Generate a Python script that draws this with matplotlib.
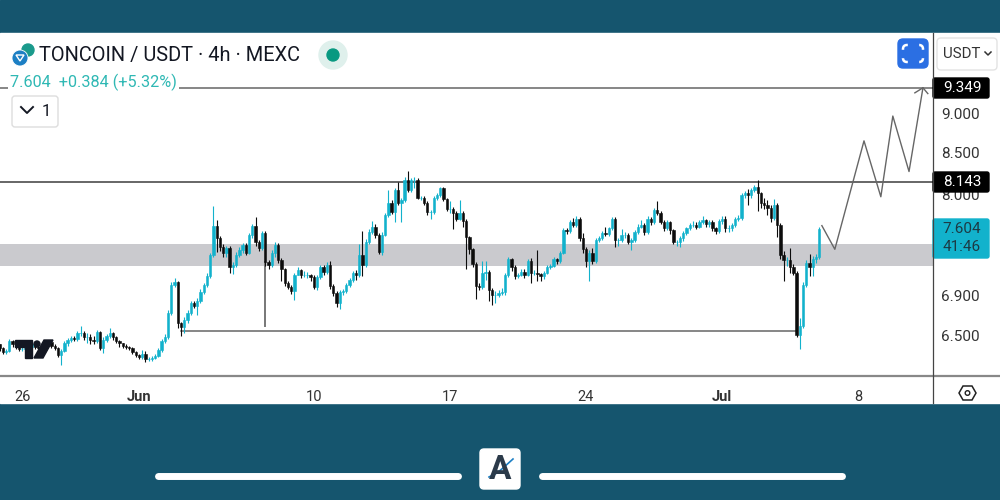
"""TONCOIN / USDT 4h candles with support levels and a forecast path."""
import matplotlib

matplotlib.use("Agg")
import matplotlib.pyplot as plt
import numpy as np
from matplotlib.patches import Circle, FancyBboxPatch, Polygon, Rectangle

plt.rcParams["font.family"] = ["Roboto", "DejaVu Sans"]

closes = [
    6.39, 6.35, 6.36, 6.45, 6.42, 6.40, 6.38, 6.38, 6.39, 6.40,
    6.42, 6.40, 6.39, 6.41, 6.43, 6.44, 6.41, 6.39, 6.32, 6.36,
    6.43, 6.46, 6.48, 6.47, 6.53, 6.53, 6.49, 6.49, 6.46, 6.45,
    6.54, 6.39, 6.46, 6.50, 6.53, 6.49, 6.45, 6.43, 6.41, 6.40,
    6.39, 6.35, 6.32, 6.30, 6.33, 6.28, 6.28, 6.29, 6.31, 6.37,
    6.45, 6.49, 6.72, 7.00, 7.03, 6.62, 6.59, 6.65, 6.72, 6.82,
    6.79, 6.84, 6.93, 7.00, 7.10, 7.32, 7.64, 7.50, 7.40, 7.34,
    7.39, 7.19, 7.21, 7.32, 7.37, 7.43, 7.34, 7.54, 7.64, 7.46,
    7.39, 7.56, 7.24, 7.21, 7.34, 7.43, 7.27, 7.17, 7.02, 6.98,
    6.94, 7.11, 7.16, 7.11, 7.11, 7.11, 7.09, 6.98, 7.09, 7.19,
    7.14, 7.21, 6.99, 6.92, 6.82, 6.93, 6.94, 7.00, 7.06, 7.13,
    7.11, 7.32, 7.21, 7.46, 7.57, 7.63, 7.54, 7.35, 7.54, 7.76,
    7.90, 7.79, 8.05, 7.90, 7.93, 8.17, 8.05, 8.17, 8.17, 7.96,
    7.96, 7.90, 7.79, 7.79, 7.96, 7.99, 8.07, 7.94, 7.83, 7.83,
    7.78, 7.71, 7.78, 7.69, 7.51, 7.38, 7.22, 6.99, 6.98, 7.13,
    7.14, 6.95, 6.90, 6.90, 6.92, 6.93, 7.11, 7.28, 7.19, 7.10,
    7.11, 7.14, 7.11, 7.25, 7.13, 7.13, 7.12, 7.10, 7.13, 7.19,
    7.20, 7.28, 7.25, 7.34, 7.59, 7.58, 7.68, 7.65, 7.72, 7.50,
    7.38, 7.25, 7.34, 7.25, 7.48, 7.50, 7.56, 7.55, 7.61, 7.71,
    7.48, 7.48, 7.54, 7.54, 7.46, 7.48, 7.57, 7.63, 7.65, 7.57,
    7.72, 7.68, 7.82, 7.78, 7.68, 7.61, 7.68, 7.59, 7.46, 7.46,
    7.50, 7.56, 7.61, 7.65, 7.65, 7.63, 7.68, 7.70, 7.66, 7.68,
    7.61, 7.58, 7.69, 7.72, 7.61, 7.61, 7.65, 7.72, 7.73, 7.99,
    8.01, 7.99, 8.05, 8.09, 8.01, 7.90, 7.88, 7.84, 7.73, 7.88,
    7.65, 7.32, 7.27, 7.27, 7.19, 7.13, 6.51, 6.60, 7.00, 7.23,
    7.19, 7.28, 7.30, 7.604,
]
highs = [
    6.42, 6.40, 6.38, 6.47, 6.46, 6.43, 6.41, 6.40, 6.41, 6.42,
    6.44, 6.43, 6.41, 6.43, 6.45, 6.46, 6.45, 6.42, 6.40, 6.38,
    6.45, 6.48, 6.50, 6.50, 6.55, 6.60, 6.55, 6.53, 6.52, 6.50,
    6.56, 6.55, 6.49, 6.52, 6.58, 6.54, 6.50, 6.46, 6.43, 6.42,
    6.41, 6.40, 6.36, 6.33, 6.37, 6.36, 6.30, 6.31, 6.33, 6.39,
    6.47, 6.52, 6.75, 7.03, 7.08, 7.05, 6.63, 6.68, 6.75, 6.84,
    6.84, 6.87, 6.96, 7.02, 7.13, 7.34, 7.86, 7.70, 7.53, 7.44,
    7.42, 7.42, 7.24, 7.35, 7.40, 7.45, 7.45, 7.56, 7.66, 7.74,
    7.48, 7.58, 7.58, 7.27, 7.37, 7.46, 7.45, 7.29, 7.18, 7.05,
    7.00, 7.13, 7.19, 7.17, 7.15, 7.14, 7.12, 7.11, 7.11, 7.21,
    7.21, 7.24, 7.25, 7.01, 6.94, 6.95, 6.96, 7.02, 7.08, 7.15,
    7.16, 7.44, 7.58, 7.49, 7.60, 7.69, 7.66, 7.56, 7.57, 7.78,
    8.05, 7.93, 8.07, 8.14, 7.96, 8.20, 8.28, 8.19, 8.20, 8.19,
    7.98, 7.98, 7.92, 7.82, 7.98, 8.01, 8.09, 8.08, 7.96, 7.92,
    7.85, 7.80, 7.93, 7.80, 7.71, 7.53, 7.39, 7.24, 7.02, 7.25,
    7.25, 7.16, 6.97, 6.94, 6.95, 6.97, 7.13, 7.30, 7.29, 7.21,
    7.13, 7.17, 7.17, 7.28, 7.29, 7.16, 7.37, 7.13, 7.15, 7.21,
    7.22, 7.30, 7.29, 7.36, 7.61, 7.61, 7.70, 7.73, 7.75, 7.74,
    7.56, 7.40, 7.37, 7.39, 7.50, 7.52, 7.58, 7.63, 7.63, 7.74,
    7.74, 7.50, 7.60, 7.57, 7.56, 7.50, 7.59, 7.66, 7.70, 7.67,
    7.75, 7.74, 7.84, 7.92, 7.80, 7.70, 7.70, 7.69, 7.60, 7.48,
    7.52, 7.58, 7.63, 7.67, 7.69, 7.68, 7.70, 7.75, 7.72, 7.70,
    7.70, 7.63, 7.71, 7.75, 7.75, 7.65, 7.67, 7.74, 7.76, 8.01,
    8.04, 8.06, 8.07, 8.11, 8.17, 8.03, 7.95, 7.93, 7.88, 7.94,
    7.90, 7.67, 7.36, 7.30, 7.39, 7.22, 7.15, 6.67, 7.03, 7.26,
    7.33, 7.31, 7.33, 7.62,
]
lows = [
    6.36, 6.33, 6.33, 6.35, 6.40, 6.38, 6.36, 6.36, 6.37, 6.38,
    6.39, 6.38, 6.37, 6.38, 6.40, 6.42, 6.39, 6.37, 6.30, 6.23,
    6.35, 6.41, 6.44, 6.45, 6.45, 6.50, 6.46, 6.43, 6.42, 6.42,
    6.43, 6.37, 6.34, 6.44, 6.48, 6.46, 6.43, 6.40, 6.39, 6.38,
    6.37, 6.33, 6.30, 6.28, 6.28, 6.26, 6.27, 6.27, 6.28, 6.30,
    6.35, 6.43, 6.47, 6.70, 6.98, 6.58, 6.50, 6.53, 6.62, 6.70,
    6.77, 6.70, 6.82, 6.91, 6.98, 7.08, 7.30, 7.35, 7.36, 7.30,
    7.30, 7.13, 7.12, 7.19, 7.30, 7.34, 7.32, 7.33, 7.50, 7.42,
    7.36, 7.37, 7.20, 7.17, 7.19, 7.30, 7.23, 7.04, 6.99, 6.96,
    6.91, 6.85, 7.11, 7.08, 7.09, 7.08, 7.04, 6.96, 6.95, 7.07,
    7.11, 7.12, 6.96, 6.89, 6.78, 6.76, 6.90, 6.92, 6.98, 7.03,
    7.06, 7.09, 7.10, 7.19, 7.44, 7.55, 7.50, 7.33, 7.32, 7.52,
    7.74, 7.77, 7.68, 7.88, 7.68, 7.91, 8.03, 8.03, 8.07, 7.94,
    7.93, 7.88, 7.76, 7.71, 7.77, 7.93, 7.97, 7.92, 7.80, 7.78,
    7.60, 7.69, 7.70, 7.62, 7.17, 7.33, 7.19, 6.86, 6.95, 6.96,
    7.06, 6.84, 6.80, 6.82, 6.88, 6.90, 6.90, 7.09, 7.15, 7.07,
    7.08, 7.10, 7.08, 7.10, 7.02, 7.11, 7.05, 7.05, 7.07, 7.12,
    7.17, 7.19, 7.22, 7.23, 7.33, 7.55, 7.56, 7.62, 7.63, 7.47,
    7.34, 7.19, 7.05, 7.22, 7.23, 7.46, 7.48, 7.53, 7.53, 7.59,
    7.40, 7.42, 7.46, 7.50, 7.44, 7.37, 7.46, 7.55, 7.61, 7.54,
    7.55, 7.65, 7.66, 7.76, 7.66, 7.58, 7.59, 7.55, 7.44, 7.42,
    7.41, 7.47, 7.54, 7.59, 7.62, 7.60, 7.61, 7.66, 7.63, 7.63,
    7.58, 7.55, 7.56, 7.66, 7.57, 7.57, 7.58, 7.63, 7.69, 7.70,
    7.96, 7.87, 7.96, 8.03, 7.80, 7.84, 7.83, 7.76, 7.68, 7.70,
    7.51, 7.28, 7.04, 7.20, 7.13, 7.11, 6.49, 6.38, 6.58, 6.98,
    7.10, 7.10, 7.23, 7.28,
]
first_open = 6.42

tick_candles = [7, 43, 97, 139, 181, 223, 265]
tick_names = ["26", "Jun", "10", "17", "24", "Jul", "8"]
price_ticks = [6.5, 6.9, 8.0, 8.5, 9.0]
price_tick_names = ["6.500", "6.900", "8.000", "8.500", "9.000"]

resistance_top = 9.349
resistance_mid = 8.143
zone_low, zone_high = 7.20, 7.44
support = 6.55
support_span = [56, 246]
spike_candle, spike_top, spike_low = 82, 7.24, 6.60
last_price = 7.604

forecast_x = [253.8, 257.8, 266.8, 272.0, 275.7, 280.7, 285.0]
forecast_y = [7.64, 7.38, 8.65, 7.97, 8.97, 8.27, 9.349]
arrow_x = [282.5, 285.0, 286.5]
arrow_y = [9.28, 9.349, 9.27]

UP = "#12b2cc"
DOWN = "#0c0c0c"
NAVY = "#15556e"
LINE = "#666666"

fig = plt.figure(figsize=(10, 5), dpi=100)

# background, pixel coordinates
base = fig.add_axes([0, 0, 1, 1], zorder=0)
base.set_xlim(0, 1000)
base.set_ylim(500, 0)
base.axis("off")
base.add_patch(Rectangle((0, 0), 1000, 500, color=NAVY))
base.add_patch(Rectangle((0, 33), 1000, 370, color="white"))

# chart area spans x 0-933, y 33-376 in pixels
ax = fig.add_axes([0, 124 / 500, 0.933, 343 / 500], zorder=1)
ax.patch.set_alpha(0)
ax.set_yscale("log")
ax.set_xlim(0.12, 288.1)
ax.set_ylim(6.13, 10.13)
for side in ax.spines.values():
    side.set_visible(False)

c = np.array(closes)
h = np.array(highs)
l = np.array(lows)
o = np.concatenate([[first_open], c[:-1]])
idx = np.arange(len(c))
colors = [UP if b >= a else DOWN for a, b in zip(o, c)]

ax.axhspan(zone_low, zone_high, color="#cacace", lw=0, zorder=1)
ax.vlines(idx, l, h, colors=colors, lw=0.8, zorder=3)
ax.bar(idx, np.abs(c - o), bottom=np.minimum(o, c), width=0.72, color=colors,
       edgecolor=colors, linewidth=0.4, zorder=4)

ax.axhline(resistance_top, color=LINE, lw=1.1, zorder=2)
ax.axhline(resistance_mid, color=LINE, lw=1.4, zorder=2)
ax.plot(support_span, [support, support], color=LINE, lw=1.1, zorder=2)
ax.plot([spike_candle, spike_candle], [spike_low, spike_top], color="#777777", lw=1.4, zorder=2)
ax.plot(forecast_x, forecast_y, color=LINE, lw=1.0, zorder=5)
ax.plot(arrow_x, arrow_y, color=LINE, lw=1.0, zorder=5)

ax.set_xticks(tick_candles)
ax.set_xticklabels(tick_names, fontsize=10.5, color="#333333")
for tick in ax.get_xticklabels():
    if tick.get_text() in ("Jun", "Jul"):
        tick.set_fontweight("bold")
ax.tick_params(axis="x", length=0, pad=10)
ax.yaxis.tick_right()
ax.minorticks_off()
ax.set_yticks(price_ticks)
ax.set_yticklabels(price_tick_names, fontsize=11, color="#333333")
ax.tick_params(axis="y", length=0, pad=6)

# header, tags and logos on top, pixel coordinates again
top = fig.add_axes([0, 0, 1, 1], zorder=2)
top.set_xlim(0, 1000)
top.set_ylim(500, 0)
top.axis("off")
top.patch.set_alpha(0)

top.plot([0, 1000], [376, 376], color="#888888", lw=1.6)
top.plot([933, 933], [33, 403], color="#444444", lw=0.9)

# small tradingview mark over the first candles
top.add_patch(Polygon([(15, 340), (32, 340), (32, 358), (25, 358), (25, 347), (15, 347)], color="#131722"))
top.add_patch(Polygon([(44, 340), (53, 340), (43, 358), (34, 358)], color="#131722"))
top.add_patch(Circle((37, 344), 3, color="#131722"))

top.add_patch(Circle((28, 50), 6, color="#1a9a8c"))
top.add_patch(Circle((20, 58), 8, color="#1c7fc4", ec="white", lw=0.6))
top.add_patch(Polygon([(16, 55), (24, 55), (20, 61)], fill=False, ec="white", lw=1))
top.text(39, 55, "TONCOIN / USDT · 4h · MEXC", fontsize=14.4, color="#131722", va="center")
top.add_patch(Circle((333, 55), 14, color="#dff0ec"))
top.add_patch(Circle((333, 55), 6, color="#089981"))

top.text(10, 82, "7.604  +0.384 (+5.32%)", fontsize=11.7, color="#2fb8b4", va="center",
         bbox=dict(fc="white", ec="none", pad=1.5))
top.add_patch(FancyBboxPatch((13, 97), 44, 29, boxstyle="round,pad=1,rounding_size=3",
                             fc="white", ec="#dddddd", lw=1))
top.plot([21, 27, 33], [107, 113, 107], color="#131722", lw=1.4)
top.text(46, 111, "1", fontsize=12, color="#131722", ha="center", va="center")

# fullscreen button, white corners only
top.add_patch(FancyBboxPatch((899, 40), 28, 27, boxstyle="round,pad=1,rounding_size=5", color="#2b6fe3"))
top.add_patch(FancyBboxPatch((903, 45), 20, 17, boxstyle="round,pad=0,rounding_size=4",
                              fc="none", ec="white", lw=1.8))
top.add_patch(Rectangle((908, 43), 10, 4, color="#2b6fe3"))
top.add_patch(Rectangle((908, 60), 10, 4, color="#2b6fe3"))
top.add_patch(Rectangle((901, 50), 4, 7, color="#2b6fe3"))
top.add_patch(Rectangle((921, 50), 4, 7, color="#2b6fe3"))

top.add_patch(FancyBboxPatch((938, 39), 58, 30, boxstyle="round,pad=1,rounding_size=4",
                             fc="white", ec="#e3e3e3", lw=1))
top.text(943, 54, "USDT", fontsize=10.8, color="#333333", va="center")
top.plot([985, 988, 991], [52, 55, 52], color="#333333", lw=1.1)

top.add_patch(FancyBboxPatch((934, 79), 54, 18, boxstyle="round,pad=1,rounding_size=2", color="black"))
top.text(962, 88, "9.349", fontsize=11, color="white", ha="center", va="center")
top.add_patch(FancyBboxPatch((934, 173), 54, 18, boxstyle="round,pad=1,rounding_size=2", color="black"))
top.text(962, 182, "8.143", fontsize=11, color="white", ha="center", va="center")
top.add_patch(FancyBboxPatch((934, 220), 54, 37, boxstyle="round,pad=1,rounding_size=2", color=UP))
top.text(962, 229, "7.604", fontsize=11, color="#1c3a44", ha="center", va="center")
top.text(962, 247, "41:46", fontsize=11, color="#1c3a44", ha="center", va="center")

top.add_patch(Polygon([(959, 393), (963, 386), (972, 386), (976, 393), (972, 400), (963, 400)],
                      fill=False, ec="#222222", lw=1.1))
top.add_patch(Circle((967.5, 393), 2.3, fill=False, ec="#222222", lw=1))

top.plot([158, 458], [476, 476], color="white", lw=5, solid_capstyle="round")
top.plot([542, 842], [476, 476], color="white", lw=5, solid_capstyle="round")
top.add_patch(FancyBboxPatch((482, 451), 36, 36, boxstyle="round,pad=2,rounding_size=4", color="white"))
top.text(500, 470, "A", fontsize=24, fontweight="bold", color="#2b3a4a", ha="center", va="center")
top.plot([489, 497, 503, 513], [477, 473, 468, 459], color="#1c7fc4", lw=1.2)

fig.savefig("out.png", dpi=100)
plt.close(fig)
